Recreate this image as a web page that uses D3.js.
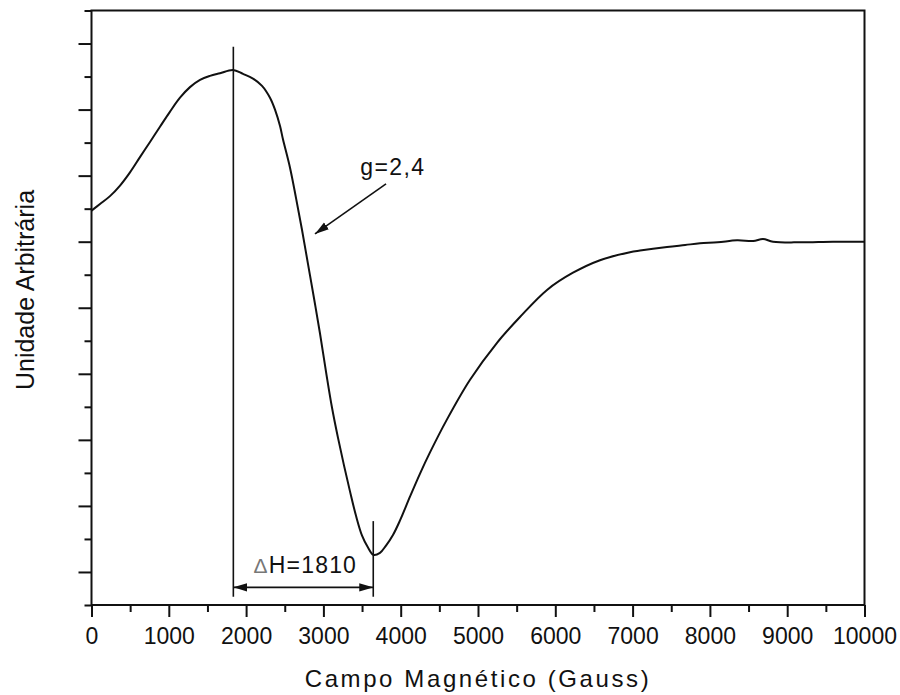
<!DOCTYPE html>
<html>
<head>
<meta charset="utf-8">
<script src="https://cdn.jsdelivr.net/npm/d3@7"></script>
<style>
  html, body { margin: 0; padding: 0; background: #fff; }
  svg { display: block; }
  text { font-family: "Liberation Sans", Arial, Helvetica, sans-serif; fill: #111; }
</style>
</head>
<body>
<svg id="chart" width="900" height="695"></svg>
<script>
// EPR spectrum: magnetic field (G) vs. signal intensity (arbitrary units)
const fieldGauss = [0, 110, 239, 369, 498, 627, 757, 886, 1016, 1145, 1274, 1404, 1533, 1662, 1830,
  1960, 2089, 2206, 2309, 2374, 2439, 2477, 2568, 2646, 2723, 2801, 2879, 2956, 3034, 3111,
  3189, 3267, 3344, 3422, 3500, 3577, 3645, 3732, 3810, 3900, 3991, 4120, 4250, 4379, 4599,
  4897, 5246, 5543, 5893, 6229, 6578, 6966, 7096, 7445, 7680, 7872, 8100, 8351, 8560, 8687,
  8817, 9166, 9593, 10000];
const intensity = [5.47, 5.57, 5.69, 5.85, 6.05, 6.28, 6.51, 6.74, 6.97, 7.18, 7.34, 7.45, 7.51, 7.55, 7.60,
  7.54, 7.47, 7.36, 7.18, 7.00, 6.75, 6.55, 6.12, 5.66, 5.18, 4.66, 4.14, 3.61, 3.03, 2.49,
  2.03, 1.61, 1.22, 0.85, 0.55, 0.37, 0.26, 0.29, 0.40, 0.56, 0.78, 1.14, 1.49, 1.81, 2.31,
  2.91, 3.47, 3.86, 4.27, 4.53, 4.72, 4.84, 4.865, 4.92, 4.95, 4.975, 4.99, 5.02, 5.01, 5.04,
  5.00, 4.99, 5.00, 5.00];

// Axis ticks
const xTicks = d3.range(0, 10001, 500);
const xTickLabels = ["0", "1000", "2000", "3000", "4000", "5000", "6000", "7000", "8000", "9000", "10000"];
const yTicks = d3.range(-0.5, 8.51, 0.5);

// Annotations
const peakField = 1835;
const linewidthGauss = 1810;           // ΔH = 1810
const troughField = peakField + linewidthGauss;
const gLabel = "g=2,4";
const gArrow = [[3810, 5.875], [2891, 5.118]];

const svg = d3.select("#chart");
const x = d3.scaleLinear().domain([0, 10000]).range([91.5, 864.5]);
const y = d3.scaleLinear().domain([-0.5, 8.5]).range([605, 10.5]);

// Arrowhead marker
const defs = svg.append("defs");
defs.append("marker")
  .attr("id", "head")
  .attr("viewBox", "0 0 14 10")
  .attr("refX", 14).attr("refY", 5)
  .attr("markerWidth", 14).attr("markerHeight", 10)
  .attr("markerUnits", "userSpaceOnUse")
  .attr("orient", "auto-start-reverse")
  .append("path")
  .attr("d", "M0,0.8 L14,5 L0,9.2 Z")
  .attr("fill", "#111");

// Bottom axis
const xAxis = svg.append("g")
  .attr("transform", `translate(0,${y(-0.5)})`)
  .call(d3.axisBottom(x).tickValues(xTicks).tickSize(12).tickFormat(""));
xAxis.select(".domain").remove();
xAxis.selectAll(".tick line")
  .attr("stroke", "#111").attr("stroke-width", 2)
  .attr("y2", d => d % 1000 === 0 ? 12 : 7);
xAxis.selectAll(".tick")
  .filter(d => d % 1000 === 0)
  .append("text")
  .attr("y", 38.5)
  .attr("text-anchor", "middle")
  .style("font-size", "23px")
  .text(d => xTickLabels[d / 1000]);

// Left axis
const yAxis = svg.append("g")
  .attr("transform", `translate(${x(0)},0)`)
  .call(d3.axisLeft(y).tickValues(yTicks).tickSize(13).tickFormat(""));
yAxis.select(".domain").remove();
yAxis.selectAll(".tick line")
  .attr("stroke", "#111").attr("stroke-width", 2)
  .attr("x2", d => Number.isInteger(d) ? -13 : -7);

// Plot frame
svg.append("rect")
  .attr("x", x(0)).attr("y", y(8.5))
  .attr("width", x(10000) - x(0)).attr("height", y(-0.5) - y(8.5))
  .attr("fill", "none").attr("stroke", "#111").attr("stroke-width", 2);

// Spectrum
const line = d3.line()
  .x((d, i) => x(fieldGauss[i]))
  .y(d => y(d))
  .curve(d3.curveCatmullRom.alpha(0.5));
svg.append("path")
  .datum(intensity)
  .attr("d", line)
  .attr("fill", "none")
  .attr("stroke", "#111")
  .attr("stroke-width", 2);

// Peak-to-peak markers
svg.append("line")
  .attr("x1", x(peakField)).attr("x2", x(peakField))
  .attr("y1", y(7.95)).attr("y2", y(-0.375))
  .attr("stroke", "#111").attr("stroke-width", 1.6);
svg.append("line")
  .attr("x1", x(troughField)).attr("x2", x(troughField))
  .attr("y1", y(0.77)).attr("y2", y(-0.375))
  .attr("stroke", "#111").attr("stroke-width", 1.6);
svg.append("line")
  .attr("x1", x(peakField)).attr("x2", x(troughField))
  .attr("y1", y(-0.233)).attr("y2", y(-0.233))
  .attr("stroke", "#111").attr("stroke-width", 1.6)
  .attr("marker-start", "url(#head)")
  .attr("marker-end", "url(#head)");

const dh = svg.append("text")
  .attr("x", x((peakField + troughField) / 2) + 2)
  .attr("y", y(-0.01))
  .attr("text-anchor", "middle")
  .style("font-size", "23px")
  .style("letter-spacing", "1.2px");
dh.append("tspan").style("fill", "#777").style("font-size", "21px").text("Δ");
dh.append("tspan").text("H=" + linewidthGauss);

// g-factor annotation
svg.append("text")
  .attr("x", x(3477)).attr("y", y(6.01))
  .style("font-size", "23px")
  .style("letter-spacing", "1.4px")
  .text(gLabel);
svg.append("line")
  .attr("x1", x(gArrow[0][0])).attr("y1", y(gArrow[0][1]))
  .attr("x2", x(gArrow[1][0])).attr("y2", y(gArrow[1][1]))
  .attr("stroke", "#111").attr("stroke-width", 1.6)
  .attr("marker-end", "url(#head)");

// Axis titles
svg.append("text")
  .attr("x", 478).attr("y", 686.5)
  .attr("text-anchor", "middle")
  .style("font-size", "24px")
  .style("letter-spacing", "2.6px")
  .text("Campo Magnético (Gauss)");
svg.append("text")
  .attr("transform", "translate(34,290) rotate(-90)")
  .attr("text-anchor", "middle")
  .style("font-size", "25px")
  .text("Unidade Arbitrária");
</script>
</body>
</html>
